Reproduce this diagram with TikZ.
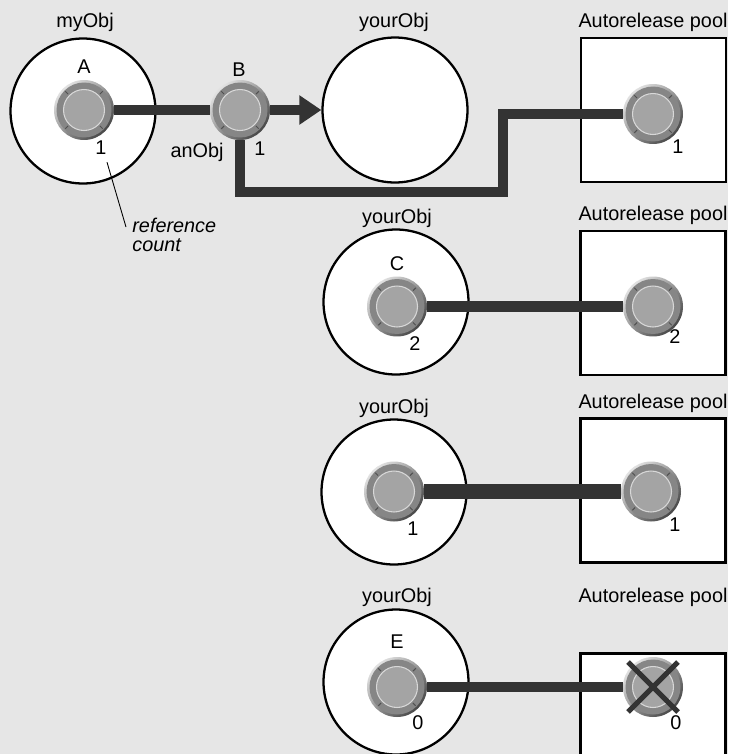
\documentclass[tikz,border=0pt]{standalone}
\usepackage{fontspec}
\setmainfont{Liberation Sans}
\usetikzlibrary{arrows.meta,calc}

\definecolor{paper}{HTML}{E6E6E6}
\definecolor{barclr}{HTML}{333333}
\definecolor{knoblight}{HTML}{E2E2E2}
\definecolor{knobdark}{HTML}{474747}
\definecolor{knobring}{HTML}{868686}
\definecolor{knobface}{HTML}{A4A4A4}
\definecolor{knobedge}{HTML}{D8D8D8}
\definecolor{knobtick}{HTML}{505050}

\pgfdeclarelayer{front}
\pgfsetlayers{main,front}

\tikzset{
  obj/.style={circle, draw, line width=1.3pt, fill=white, minimum size=2.9cm, inner sep=0pt},
  pool/.style={rectangle, draw, line width=1.3pt, fill=white, minimum width=2.9cm, minimum height=2.88cm, inner sep=0pt},
  knob/.style={circle, minimum size=1.2cm, inner sep=0pt,
    path picture={
      \begin{scope}[shift={(path picture bounding box.center)}]
        \shade[top color=knoblight, bottom color=knobdark, shading angle=45] (0,0) circle (0.6cm);
        \fill[knobring] (0,0) circle (0.55cm);
        \draw[knobedge, line width=0.6pt, fill=knobface] (0,0) circle (0.41cm);
        \foreach \a in {45,135,225,315}
          \draw[knobtick, line width=0.6pt] (\a:0.45cm) -- (\a:0.53cm);
      \end{scope}
    }},
  ref/.style={draw=barclr, line width=5.7pt},
  thickref/.style={ref, line width=8pt},
  xmark/.style={draw=barclr, line width=2.9pt, shorten <=-0.1cm, shorten >=-0.1cm},
  txt/.style={inner sep=0pt, font=\fontsize{11.3}{13}\selectfont},
  pointer/.style={draw=black, line width=0.5pt}
}

\begin{document}
\begin{tikzpicture}[x=0.02cm, y=-0.02cm]
  \clip (0,0) rectangle (728,754);
  \fill[paper] (0,0) rectangle (728,754);

  % objects
  \node[obj] (myObj) at (83,111) {};
  \node[obj] (your1) at (395,110) {};
  \node[obj] (your2) at (396,302) {};
  \node[obj] (your3) at (394,492) {};
  \node[obj] (your4) at (396,682) {};

  % autorelease pools
  \node[pool] (pool1) at (653.5,110) {};
  \node[pool] (pool2) at (653,303) {};
  \node[pool] (pool3) at (653,490.5) {};
  \node[pool] (pool4) at (653,725.5) {};

  % titles
  \node[txt] (tMy) at (85,22) {myObj};
  \node[txt] (tYour1) at (394,22) {yourObj};
  \node[txt] (tYour2) at (397,218) {yourObj};
  \node[txt] (tYour3) at (394,408) {yourObj};
  \node[txt] (tYour4) at (397,597) {yourObj};
  \foreach \n/\y in {1/22, 2/215, 3/403, 4/597}
    \node[txt] (tPool\n) at (653,\y) {Autorelease pool};

  % reference knobs
  \begin{pgfonlayer}{front}
    \node[knob] (A) at (84,110) {};
    \node[knob] (B) at (240,110) {};
    \node[knob] (P1) at (653,114) {};
    \node[knob] (C) at (397,306.5) {};
    \node[knob] (P2) at (653,306.5) {};
    \node[knob] (D) at (394,491.5) {};
    \node[knob] (P3) at (651,491.5) {};
    \node[knob] (E) at (397,687) {};
    \node[knob] (P4) at (653,687) {};

    \draw[xmark] (P4.north west) -- (P4.south east);
    \draw[xmark] (P4.north east) -- (P4.south west);
  \end{pgfonlayer}

  % knob letters
  \node[txt] (lA) at ($(A)+(0,-43)$) {A};
  \node[txt] (lB) at ($(B)+(-1,-40)$) {B};
  \node[txt] (lC) at ($(C)+(0,-43)$) {C};
  \node[txt] (lE) at ($(E)+(0,-45)$) {E};
  \node[txt] (anObj) at ($(B)+(-43,42)$) {anObj};

  % reference counts
  \node[txt] (cntA) at ($(A)+(17,38)$) {1};
  \node[txt] (cntB) at ($(B)+(20,39)$) {1};
  \node[txt] (cntP1) at ($(P1)+(25,33)$) {1};
  \node[txt] (cntC) at ($(C)+(18,37)$) {2};
  \node[txt] (cntP2) at ($(P2)+(22,30)$) {2};
  \node[txt] (cntD) at ($(D)+(19,37)$) {1};
  \node[txt] (cntP3) at ($(P3)+(24,33)$) {1};
  \node[txt] (cntE) at ($(E)+(21,36)$) {0};
  \node[txt] (cntP4) at ($(P4)+(23,36)$) {0};

  % note on the count
  \node[txt, anchor=north west, align=left, font=\fontsize{11.3}{10.8}\selectfont\itshape] (note) at (132,218) {reference\\count};
  \coordinate (noteTip) at (126,227);
  \draw[pointer] ($(cntA.south)+(6,7)$) -- (noteTip);

  % references
  \draw[ref] (A) -- (B);
  \draw[ref, -{Triangle[length=0.44cm, width=0.56cm]}] (B) -- (your1.west);
  \coordinate (bend) at (503,192);
  \draw[ref] (B) |- (bend) |- (P1);
  \draw[ref] (C) -- (P2);
  \draw[thickref] (D) -- (P3);
  \draw[ref] (E) -- (P4);
\end{tikzpicture}
\end{document}
